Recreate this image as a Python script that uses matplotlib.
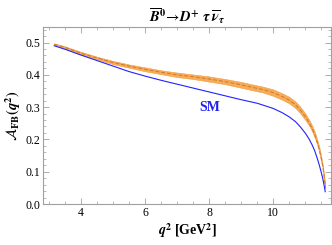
import numpy as np
import matplotlib
matplotlib.use("Agg")
import matplotlib.pyplot as plt
from matplotlib.ticker import MultipleLocator

plt.rcParams['font.family'] = ['Liberation Serif', 'DejaVu Serif']
plt.rcParams['mathtext.fontset'] = 'stix'

# q^2 grid (GeV^2)
q2 = [3.16, 3.5, 4.0, 4.5, 5.0, 5.5, 6.0, 6.5, 7.0, 7.5, 8.0, 8.5, 9.0,
      9.5, 9.66, 10.0, 10.28, 10.5, 10.7, 10.85, 11.01, 11.12, 11.22, 11.3,
      11.375, 11.44, 11.5, 11.55, 11.6, 11.63]

# Standard Model curve
afb_sm = [0.490, 0.479, 0.461, 0.444, 0.427, 0.410, 0.396, 0.383, 0.371,
          0.359, 0.347, 0.335, 0.323, 0.312, 0.307, 0.296, 0.283, 0.270,
          0.255, 0.239, 0.219, 0.202, 0.183, 0.165, 0.143, 0.122, 0.100,
          0.080, 0.055, 0.038]

# New-physics band: central value and half-width
afb_np = [0.495, 0.485, 0.467, 0.452, 0.438, 0.427, 0.417, 0.408, 0.400,
          0.394, 0.387, 0.379, 0.369, 0.358, 0.355, 0.345, 0.333, 0.322,
          0.307, 0.291, 0.270, 0.253, 0.234, 0.215, 0.193, 0.170, 0.143,
          0.117, 0.080, 0.052]
afb_err = [0.002, 0.003, 0.004, 0.004, 0.005, 0.005, 0.006, 0.006, 0.007,
           0.007, 0.008, 0.008, 0.009, 0.009, 0.009, 0.010, 0.010, 0.010,
           0.010, 0.010, 0.010, 0.009, 0.009, 0.009, 0.008, 0.008, 0.007,
           0.006, 0.005, 0.004]

q2 = np.array(q2)
afb_np = np.array(afb_np)
afb_err = np.array(afb_err)

fig = plt.figure(figsize=(3.32, 2.45), dpi=100)
ax = fig.add_axes([0.1295, 0.1673, 0.8675, 0.7225])

ax.fill_between(q2, afb_np - afb_err, afb_np + afb_err, color='#F8AC58',
                linewidth=0.4, edgecolor='#F39A3A')
ax.plot(q2, afb_np, color='#C87A30', linestyle=(0, (4, 2)), linewidth=0.7)
ax.plot(q2, afb_sm, color='#2222FF', linewidth=0.8)

ax.text(8.03, 0.30, 'SM', color='#2222EE', fontsize=10, fontweight='bold',
        ha='center', va='center')

ax.set_xlim(2.81, 11.81)
ax.set_ylim(0, 0.548)
ax.xaxis.set_major_locator(MultipleLocator(2))
ax.xaxis.set_minor_locator(MultipleLocator(0.5))
ax.yaxis.set_major_locator(MultipleLocator(0.1))
ax.yaxis.set_minor_locator(MultipleLocator(0.02))
ax.yaxis.set_major_formatter(plt.FormatStrFormatter('%.1f'))

for s in ax.spines.values():
    s.set_color('#A0A0A0')
    s.set_linewidth(0.8)
ax.tick_params(which='both', direction='in', top=True, right=True,
               color='#A0A0A0', labelsize=8.5, pad=2)
ax.tick_params(which='major', length=4, width=0.6)
ax.tick_params(which='minor', length=2, width=0.5)

ax.set_title(r'$\overline{\mathbfit{B}}^{\mathbf{0}}\!\rightarrow\!\mathbfit{D}^{\mathbf{+}}\ \mathbfit{\tau}\ \overline{\mathbfit{\nu}}_{\mathbfit{\tau}}$',
             fontsize=10.5, pad=4)
ax.set_xlabel(r'$\mathbfit{q}^{\mathbf{2}}$ [GeV$^{\mathbf{2}}$]', fontsize=10,
              fontweight='bold', labelpad=2)
ax.set_ylabel(r'$\mathcal{A}_{\mathbf{FB}}\mathbf{(}\mathbfit{q}^{\mathbf{2}}\mathbf{)}$',
              fontsize=10.5, labelpad=2)

fig.savefig('out.png', dpi=100)
